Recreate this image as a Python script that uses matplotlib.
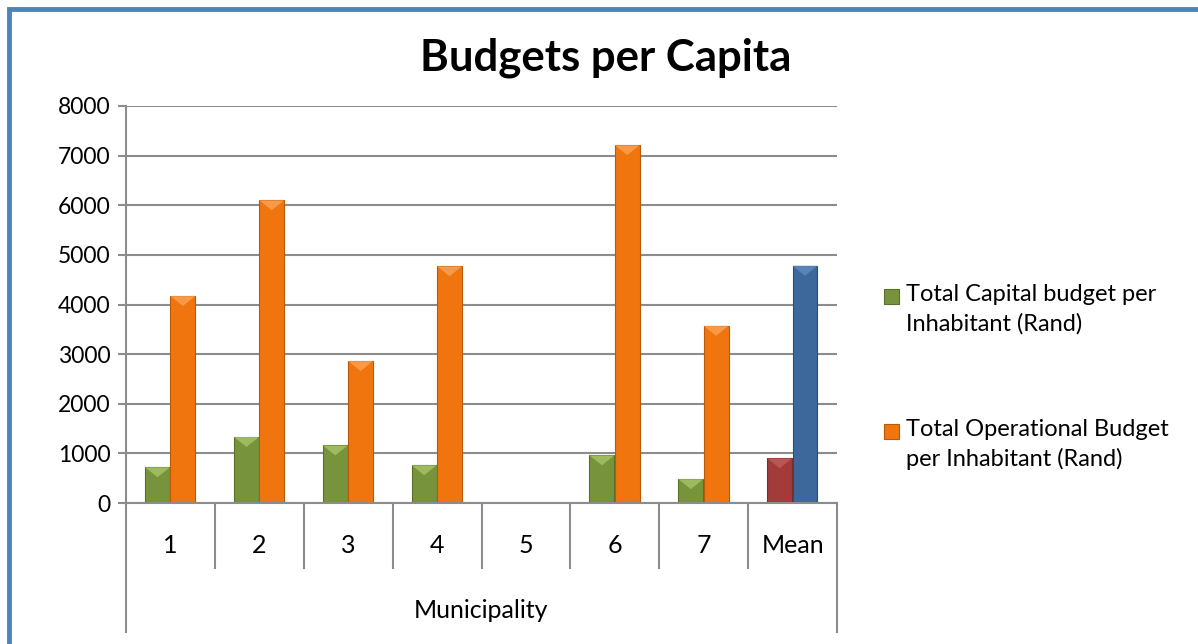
import matplotlib.pyplot as plt
from matplotlib.patches import Rectangle, Polygon
import numpy as np

plt.rcParams['font.family'] = ['Lato', 'DejaVu Sans']

categories = ['1', '2', '3', '4', '5', '6', '7', 'Mean']
capital = [720, 1330, 1160, 760, 0, 960, 480, 900]
operational = [4170, 6100, 2860, 4770, 0, 7210, 3570, 4780]
capital_label = 'Total Capital budget per\nInhabitant (Rand)'
operational_label = 'Total Operational Budget\nper Inhabitant (Rand)'

green = '#77933C'
orange = '#F0750F'
mean_red = '#A33B3B'
mean_blue = '#3C689C'

W, H = 1198, 644
fig = plt.figure(figsize=(W / 100, H / 100), dpi=100)
ax = fig.add_axes([126 / W, 1 - 503 / H, 711 / W, 397 / H])

x = np.arange(len(categories)) + 0.5
w = 0.28
cap_colors = [green] * 7 + [mean_red]
op_colors = [orange] * 7 + [mean_blue]
cap_edges = ['#5A7029'] * 7 + ['#7A2A2A']
op_edges = ['#B85A0A'] * 7 + ['#2C4E75']
cap_tops = ['#A6C266'] * 7 + ['#C25A5A']
op_tops = ['#F9A050'] * 7 + ['#6088BC']

b1 = ax.bar(x - 0.145, capital, w, color=cap_colors, edgecolor=cap_edges,
            linewidth=0.8, zorder=3)
b2 = ax.bar(x + 0.14, operational, w, color=op_colors, edgecolor=op_edges,
            linewidth=0.8, zorder=3)

# bevelled top on each bar
for bars, tops in ((b1, cap_tops), (b2, op_tops)):
    for bar, tc in zip(bars, tops):
        h = bar.get_height()
        if h <= 0:
            continue
        x0, bw = bar.get_x(), bar.get_width()
        d = min(200, h / 2)
        ax.add_patch(Polygon([(x0, h), (x0 + bw, h), (x0 + bw / 2, h - d)],
                             closed=True, facecolor=tc, edgecolor='none',
                             zorder=4, alpha=0.85))

ax.set_xlim(0, 8)
ax.set_ylim(0, 8000)
ax.set_yticks(range(0, 8001, 1000))
ax.yaxis.grid(True, color='#8C8C8C', linewidth=1.5, zorder=0)
ax.set_xticks([])
ax.tick_params(axis='y', labelsize=16.5, length=6, width=1.5, color='#8C8C8C', pad=5)
for s in ['top', 'right', 'bottom']:
    ax.spines[s].set_visible(False)
ax.spines['left'].set_color('#8C8C8C')
ax.spines['left'].set_linewidth(1.5)

# two-level category axis below the plot
tr = ax.get_xaxis_transform()
ax.plot([0, 8], [0, 0], color='#8C8C8C', lw=1.5, transform=tr, clip_on=False, zorder=5)
for i in range(1, 8):
    ax.plot([i, i], [0, -0.164], color='#8C8C8C', lw=1.5, transform=tr, clip_on=False)
for i in (0, 8):
    ax.plot([i, i], [0, -0.325], color='#8C8C8C', lw=1.5, transform=tr, clip_on=False)
for xi, c in zip(x, categories):
    ax.text(xi, -0.108, c, transform=tr, ha='center', va='center', fontsize=18)
ax.text(4, -0.272, 'Municipality', transform=tr, ha='center', va='center', fontsize=18)

fig.text(606 / W, 1 - 58 / H, 'Budgets per Capita', ha='center', va='center',
         fontsize=31.5, fontweight='bold')

# legend: square key next to the first line of each two-line label
for label, fc, ec, ky in ((capital_label, green, '#5A7029', 296),
                          (operational_label, orange, '#B85A0A', 431)):
    fig.patches.append(Rectangle((884 / W, 1 - (ky + 7.5) / H), 15 / W, 15 / H,
                                 transform=fig.transFigure, facecolor=fc,
                                 edgecolor=ec, linewidth=0.8))
    fig.text(906 / W, 1 - (ky - 12) / H, label, ha='left', va='top',
             fontsize=17, linespacing=1.45)

# outer chart frame
fig.patches.append(Rectangle((9 / W, -0.1), 1.2, 1 - 9 / H + 0.1,
                             transform=fig.transFigure, fill=False,
                             edgecolor='#4F81BD', linewidth=3.5))

fig.savefig('out.png', dpi=100)
